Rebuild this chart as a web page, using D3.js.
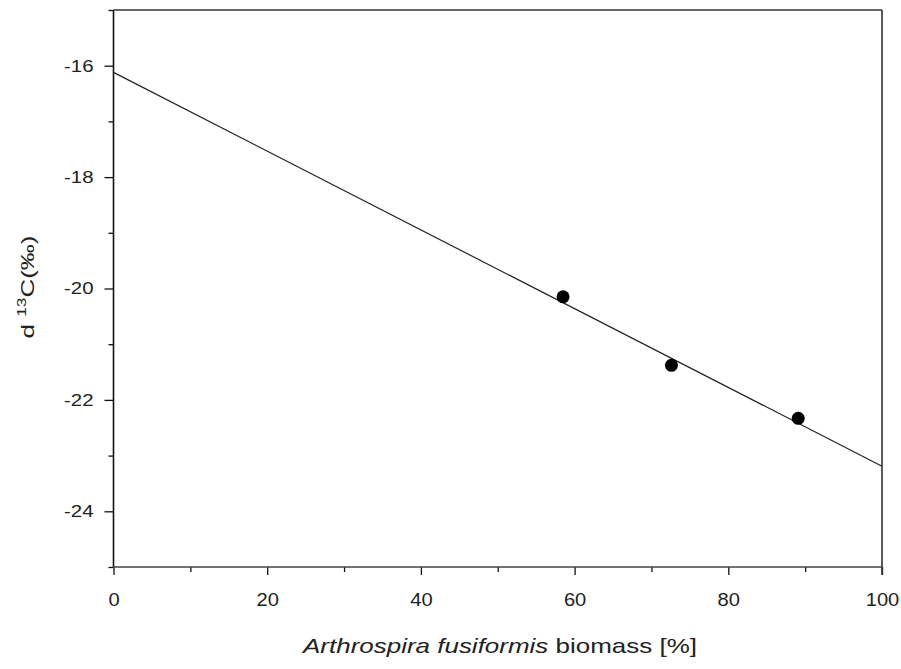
<!DOCTYPE html>
<html>
<head>
<meta charset="utf-8">
<script src="https://cdn.jsdelivr.net/npm/d3@7"></script>
<style>
  body { margin: 0; background: #fff; }
  svg text { font-family: "Liberation Sans", Arial, sans-serif; fill: #222; }
</style>
</head>
<body>
<svg id="chart" width="901" height="669"></svg>
<script>
// data
let biomass = [58.5, 72.6, 89.1]
let delta13C = [-20.15, -21.38, -22.33]
let fitX = [0, 100]
let fitY = [-16.12, -23.19]

let xMajor = [0, 20, 40, 60, 80, 100]
let xMinor = [10, 30, 50, 70, 90]
let yMajor = [-24, -22, -20, -18, -16]
let yMinor = [-25, -23, -21, -19, -17, -15]

let plotVars = ({
    left: 113.5,
    top: 10,
    width: 768.5,
    height: 557
})

let svg = d3.select("#chart")
let plot = svg.append("g")
    .attr("transform", `translate(${plotVars.left}, ${plotVars.top})`)

let xScale = d3.scaleLinear().domain([0, 100]).range([0, plotVars.width])
let yScale = d3.scaleLinear().domain([-25, -15]).range([plotVars.height, 0])

// minor ticks, no labels
plot.append("g")
    .attr("transform", `translate(0, ${plotVars.height})`)
    .call(d3.axisBottom(xScale).tickValues(xMinor).tickSize(5).tickSizeOuter(0).tickFormat(""))
plot.append("g")
    .call(d3.axisLeft(yScale).tickValues(yMinor).tickSize(5).tickSizeOuter(0).tickFormat(""))

// major ticks with labels
let xAxisGroup = plot.append("g")
    .attr("transform", `translate(0, ${plotVars.height})`)
    .call(d3.axisBottom(xScale).tickValues(xMajor).tickSize(8).tickSizeOuter(0).tickPadding(18))
xAxisGroup.selectAll("text")
    .style("font-size", "18px")
    .attr("transform", "scale(1.12,1)")

// plain hyphen for the minus sign, as in the original
let yAxisGroup = plot.append("g")
    .call(d3.axisLeft(yScale).tickValues(yMajor).tickSize(9).tickSizeOuter(0).tickPadding(11)
        .tickFormat(function (d) { return String(d) }))
yAxisGroup.selectAll("text")
    .style("font-size", "17px")
    .attr("x", -20 / 1.2)
    .attr("transform", "scale(1.2,1)")

plot.selectAll(".domain").remove()
plot.selectAll(".tick line").attr("stroke", "#111").attr("stroke-width", 1.3)

// frame
plot.append("line")
    .attr("x1", 0).attr("x2", 0).attr("y1", 0).attr("y2", plotVars.height)
    .attr("stroke", "#111").attr("stroke-width", 1.6)
plot.append("line")
    .attr("x1", 0).attr("x2", plotVars.width).attr("y1", plotVars.height).attr("y2", plotVars.height)
    .attr("stroke", "#444").attr("stroke-width", 1.6)
plot.append("line")
    .attr("x1", 0).attr("x2", plotVars.width).attr("y1", 0).attr("y2", 0)
    .attr("stroke", "#333").attr("stroke-width", 1.6)
plot.append("line")
    .attr("x1", plotVars.width).attr("x2", plotVars.width).attr("y1", 0).attr("y2", plotVars.height + 8)
    .attr("stroke", "#333").attr("stroke-width", 1.6)

// regression line
let line = d3.line()
    .x(function (d) { return xScale(d[0]) })
    .y(function (d) { return yScale(d[1]) })
plot.append("path")
    .datum(d3.zip(fitX, fitY))
    .attr("d", line)
    .attr("fill", "none")
    .attr("stroke", "#222")
    .attr("stroke-width", 1.2)

// points
plot.selectAll("circle.pt")
    .data(d3.zip(biomass, delta13C))
    .enter()
    .append("circle")
    .attr("class", "pt")
    .attr("cx", function (d) { return xScale(d[0]) })
    .attr("cy", function (d) { return yScale(d[1]) })
    .attr("r", 6.5)
    .attr("fill", "#000")

// x axis title
let xTitle = svg.append("text")
    .attr("x", 500)
    .attr("y", 653)
    .attr("text-anchor", "middle")
    .style("font-size", "21px")
    .attr("textLength", 394)
    .attr("lengthAdjust", "spacingAndGlyphs")
xTitle.append("tspan").style("font-style", "italic").text("Arthrospira fusiformis")
xTitle.append("tspan").text(" biomass [%]")

// y axis title
let yTitle = svg.append("text")
    .attr("transform", "translate(34, 287) rotate(-90)")
    .attr("text-anchor", "middle")
    .style("font-size", "18px")
    .attr("textLength", 103)
    .attr("lengthAdjust", "spacingAndGlyphs")
yTitle.append("tspan").text("d ")
yTitle.append("tspan").attr("dy", -8).style("font-size", "12px").text("13")
yTitle.append("tspan").attr("dy", 8).text("C(‰)")
</script>
</body>
</html>
